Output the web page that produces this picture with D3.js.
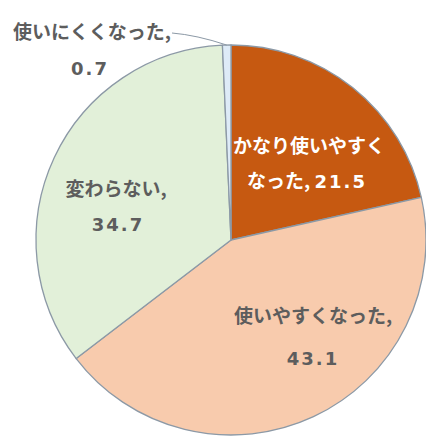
<!DOCTYPE html>
<html>
<head>
<meta charset="utf-8">
<script src="https://cdn.jsdelivr.net/npm/d3@7"></script>
<style>
  html, body { margin: 0; padding: 0; background: #ffffff; }
  svg { display: block; }
  text { white-space: pre; }
</style>
</head>
<body>
<script>
// Survey result: how usability changed (percent)
const categories = ["かなり使いやすくなった", "使いやすくなった", "変わらない", "使いにくくなった"];
const values = [21.5, 43.1, 34.7, 0.7];
// Label text is split over two lines; the value is appended from `values`
const labelHeads = [["かなり使いやすく", "なった, "], ["使いやすくなった,", ""], ["変わらない,", ""], ["使いにくくなった,", ""]];
const colors = ["#c65911", "#f8cbad", "#e2f0d9", "#deebf7"];

const W = 426, H = 437;
const cx = 231, cy = 240, R = 195;

// Label anchors relative to the pie centre: first baseline, line gap
const labelLayout = [
  { dx: 78,   dy: -87,  gap: 35, dx2: -2, fill: "#ffffff" },
  { dx: 82,   dy: 83,   gap: 42, dx2: 0,  fill: "#5d5d5d" },
  { dx: -115, dy: -44,  gap: 35, dx2: 2,  fill: "#5d5d5d" },
  { dx: -139, dy: -201, gap: 36, dx2: -2, fill: "#5d5d5d" }
];

const svg = d3.select("body").append("svg")
  .attr("width", W).attr("height", H);

const pie = d3.pie().sort(null).value(d => d.value);
const data = categories.map((c, i) => ({ name: c, value: values[i], i }));
const arcs = pie(data);
const arc = d3.arc().innerRadius(0).outerRadius(R);

const g = svg.append("g").attr("transform", `translate(${cx},${cy})`);

g.selectAll("path.slice")
  .data(arcs)
  .join("path")
  .attr("class", "slice")
  .attr("d", arc)
  .attr("fill", d => colors[d.data.i])
  .attr("stroke", "#8c99a6")
  .attr("stroke-width", 1.3)
  .attr("stroke-linejoin", "round");

// Leader line for the thin slice
const thin = arcs[3];
const mid = (thin.startAngle + thin.endAngle) / 2;
const ex = R * Math.sin(mid), ey = -R * Math.cos(mid);
const lead = labelLayout[3];
g.append("path")
  .attr("d", `M${lead.dx + 80},${lead.dy - 6} Q${ex - 30},${ey - 10} ${ex},${ey}`)
  .attr("fill", "none")
  .attr("stroke", "#8c99a6")
  .attr("stroke-width", 1);

const fmt = d3.format(".1f");
const fontCJK = "'Noto Sans CJK JP', 'Noto Sans', sans-serif";

arcs.forEach(a => {
  const i = a.data.i;
  const L = labelLayout[i];
  const heads = labelHeads[i];
  const t = g.append("text")
    .attr("text-anchor", "middle")
    .attr("font-family", fontCJK)
    .attr("font-weight", "bold")
    .attr("font-size", 19)
    .attr("fill", L.fill);
  t.append("tspan")
    .attr("x", L.dx).attr("y", L.dy)
    .text(heads[0]);
  const l2 = t.append("tspan")
    .attr("x", L.dx + L.dx2).attr("y", L.dy + L.gap);
  if (heads[1]) l2.append("tspan").text(heads[1]);
  l2.append("tspan")
    .attr("font-family", "'DejaVu Sans', sans-serif")
    .attr("font-size", 18)
    .attr("letter-spacing", 2)
    .text(fmt(a.data.value));
});
</script>
</body>
</html>
